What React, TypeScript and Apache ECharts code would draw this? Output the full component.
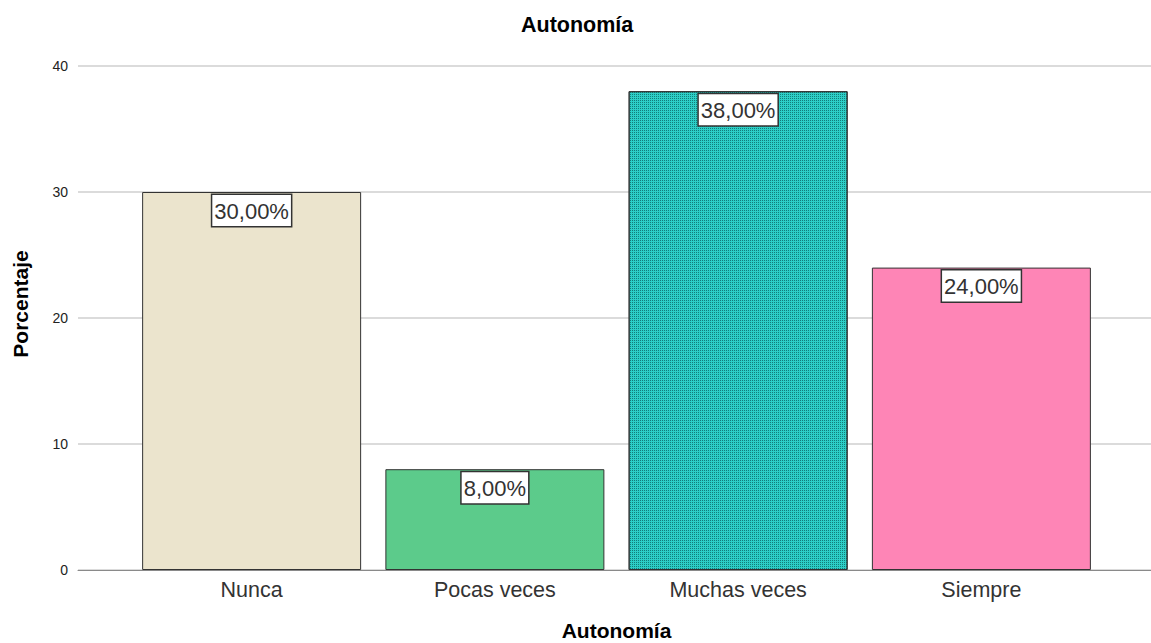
import React, { useEffect, useRef } from "react";
import * as echarts from "echarts";

const categories = ["Nunca", "Pocas veces", "Muchas veces", "Siempre"];
const values = [30, 8, 38, 24];
const yTicks = [0, 10, 20, 30, 40];

export default function App() {
  const ref = useRef<HTMLDivElement>(null);
  useEffect(() => {
    document.body.style.margin = "0";
    const chart = echarts.init(ref.current!, null, { renderer: "svg" });
    const colors = ["#ebe4cd", "#5ccb8b", "#2ccfc7", "#fe85b6"];
    const font = "Liberation Sans, Arial, sans-serif";
    chart.setOption({
      animation: false,
      backgroundColor: "#ffffff",
      title: {
        text: "Autonomía",
        left: 516,
        top: 9,
        textStyle: { fontFamily: font, fontSize: 21.5, fontWeight: "bold", color: "#000" },
      },
      graphic: [
        {
          type: "text",
          x: 20,
          y: 304,
          rotation: Math.PI / 2,
          style: {
            text: "Porcentaje",
            fontFamily: font,
            fontSize: 21,
            fontWeight: "bold",
            fill: "#000",
            align: "center",
            verticalAlign: "middle",
          },
        },
      ],
      grid: [
        { left: 78, right: 0, top: 66, bottom: 73, outerBoundsMode: "none", containLabel: false },
        { left: 130, right: 48, top: 66, bottom: 73, outerBoundsMode: "none", containLabel: false },
      ],
      xAxis: [
        {
          gridIndex: 0,
          type: "value",
          min: 0,
          max: 1,
          axisLine: { show: true, lineStyle: { color: "#8a8a8a", width: 1 } },
          axisTick: { show: false },
          axisLabel: { show: false },
          splitLine: { show: false },
        },
        {
          gridIndex: 1,
          type: "category",
          data: categories,
          axisLine: { show: false },
          axisTick: { show: false },
          axisLabel: { fontFamily: font, fontSize: 21.5, color: "#333", margin: 9 },
          name: "Autonomía",
          nameLocation: "middle",
          nameGap: 50,
          nameTextStyle: { fontFamily: font, fontSize: 21, fontWeight: "bold", color: "#000" },
        },
      ],
      yAxis: [
        {
          gridIndex: 0,
          type: "value",
          min: yTicks[0],
          max: yTicks[yTicks.length - 1],
          interval: 10,
          axisLine: { show: false },
          axisTick: { show: false },
          axisLabel: { fontFamily: font, fontSize: 14, color: "#222", margin: 10 },
          splitLine: { show: true, lineStyle: { color: "#cfcfcf", width: 1.5 } },
        },
        {
          gridIndex: 1,
          type: "value",
          min: yTicks[0],
          max: yTicks[yTicks.length - 1],
          interval: 10,
          show: false,
        },
      ],
      series: [
        {
          type: "bar",
          xAxisIndex: 1,
          yAxisIndex: 1,
          barWidth: 219,
          data: values.map((v, i) => ({
            value: v,
            itemStyle: {
              color: colors[i],
              borderColor: "#333",
              borderWidth: 1,
              decal:
                i === 2
                  ? {
                      symbol: "rect",
                      symbolSize: 1,
                      dashArrayX: [1, 1],
                      dashArrayY: [1, 1],
                      color: "rgba(0,70,70,0.6)",
                      rotation: 0,
                    }
                  : undefined,
            },
          })),
          label: {
            show: true,
            position: "insideTop",
            distance: 3,
            formatter: (p: any) => `${p.value.toFixed(2).replace(".", ",")}%`,
            fontFamily: font,
            fontSize: 22,
            color: "#333",
            backgroundColor: "#fff",
            borderColor: "#333",
            borderWidth: 1.5,
            padding: [5, 2, 4, 2],
          },
        },
      ],
    });
    return () => chart.dispose();
  }, []);
  return <div ref={ref} style={{ width: 1151, height: 643 }} />;
}
